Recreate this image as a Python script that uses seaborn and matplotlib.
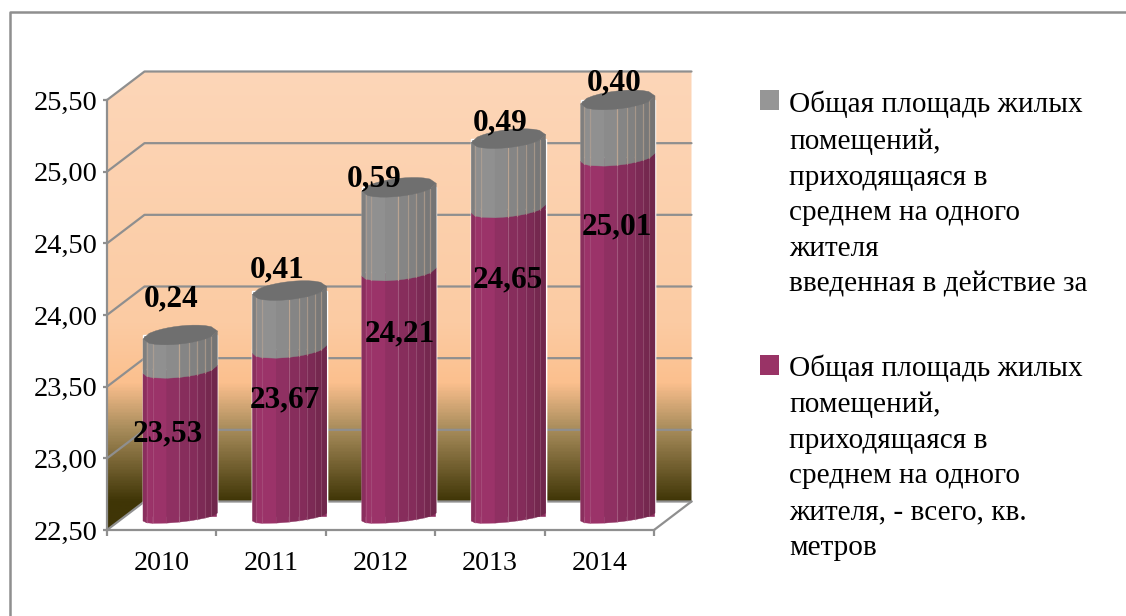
import numpy as np
import pandas as pd
import seaborn as sns
import matplotlib.pyplot as plt
from matplotlib.colors import LinearSegmentedColormap
from matplotlib.lines import Line2D
from matplotlib.patches import Polygon, Rectangle

years = ["2010", "2011", "2012", "2013", "2014"]
area_total = [23.53, 23.67, 24.21, 24.65, 25.01]
area_new = [0.24, 0.41, 0.59, 0.49, 0.40]
y_ticks = [22.5, 23.0, 23.5, 24.0, 24.5, 25.0, 25.5]
legend_new = ("Общая площадь жилых\nпомещений,\nприходящаяся в\nсреднем на одного\n"
              "жителя\nвведенная в действие за")
legend_total = ("Общая площадь жилых\nпомещений,\nприходящаяся в\nсреднем на одного\n"
                "жителя, - всего, кв.\nметров")

W, H = 1126, 616
GREY_LINE = "#8f8f8f"
sns.set_theme(style="white")
plt.rcParams["font.family"] = ["Liberation Serif", "DejaVu Serif"]

df = pd.DataFrame({"year": years, "total": area_total, "new": area_new})
df["top"] = df["total"] + df["new"]

fig = plt.figure(figsize=(W / 100, H / 100), dpi=100)
ax = fig.add_axes([107 / W, (H - 530) / H, 547 / W, 430 / H])

sns.barplot(data=df, x="year", y="top", color="#8a8a8a", width=0.68, saturation=1, ax=ax, zorder=3)
sns.barplot(data=df, x="year", y="total", color="#8e2f60", width=0.68, saturation=1, ax=ax, zorder=3)
grey_bars = ax.patches[:5]
purple_bars = ax.patches[5:10]

ax.set_xlim(-0.5, 4.5)
ax.set_ylim(y_ticks[0], y_ticks[-1])
px_x = 5 / 547
px_y = 3 / 430


# depth of the fake 3d box
depth_x = 37.5 * px_x
depth_y = 28.5 * px_y
x0, x1 = -0.5, 4.5
y0, y1 = y_ticks[0], y_ticks[-1]

# wall gradient runs on screen height, 73 to 530 px
stops = [(0.0, "#fdd6b8"), (0.55, "#fbcba3"), (0.68, "#fcc08e"), (0.78, "#a98d5c"),
         (0.94, "#3f3506"), (1.0, "#3f3506")]
wall_cmap = LinearSegmentedColormap.from_list("wall", stops)
grad = np.linspace(0, 1, 400)[:, None]
img = ax.imshow(grad, cmap=wall_cmap, aspect="auto", origin="upper", zorder=0,
                extent=(x0, x1 + depth_x, y0, y1 + depth_y))
wall_shape = Polygon([(x0, y0), (x0, y1), (x0 + depth_x, y1 + depth_y), (x1 + depth_x, y1 + depth_y),
                      (x1 + depth_x, y0 + depth_y), (x0 + depth_x, y0 + depth_y)],
                     transform=ax.transData, fc="none", ec="none")
ax.add_patch(wall_shape)
wall_shape.set_clip_on(False)
img.set_clip_box(fig.bbox)
img.set_clip_path(wall_shape)
ax.set_xlim(x0, x1)
ax.set_ylim(y0, y1)


def grey_line(xs, ys, z=1):
    ax.add_line(Line2D(xs, ys, color=GREY_LINE, lw=1.6, zorder=z, clip_on=False))


for t in y_ticks:
    grey_line([x0, x0 + depth_x, x1 + depth_x], [t, t + depth_y, t + depth_y])
grey_line([x1, x1 + depth_x], [y0, y0 + depth_y])

# cylinders: facets built on the seaborn bars, moved to the middle of the box
facets = np.array([0, 0.05, 0.13, 0.32, 0.49, 0.62, 0.73, 0.84, 0.92, 1.0])
purple_tones = ["#8a2f5e", "#9b3369", "#9b3369", "#8f3062", "#872d5c", "#842c5a", "#7c2a55", "#75284f", "#70274c"]
grey_tones = ["#7f7f7f", "#8e8e8e", "#909090", "#8b8b8b", "#858585", "#818181", "#7c7c7c", "#787878", "#747474"]
shift_x = 18.5 * px_x
shift_y = 13 * px_y


def front(t, bulge=8):
    return (4 * (1 - 2 * t) + bulge * np.sqrt(np.clip(1 - (2 * t - 1) ** 2, 0, 1))) * px_y


def back(t, bulge=9):
    return (4 * (1 - 2 * t) - bulge * np.sqrt(np.clip(1 - (2 * t - 1) ** 2, 0, 1))) * px_y


for bar in grey_bars + purple_bars:
    bar.set_y(y0 + shift_y)
    bar.set_height(bar.get_height() - y0)
    bar.set_x(bar.get_x() + shift_x)
    bar.set_clip_on(False)

for g_bar, p_bar in zip(grey_bars, purple_bars):
    left = p_bar.get_x()
    width = p_bar.get_width()
    base = p_bar.get_y()
    mid = base + p_bar.get_height()
    top = base + g_bar.get_height()
    for i in range(len(facets) - 1):
        ta, tb = facets[i], facets[i + 1]
        xa, xb = left + ta * width, left + tb * width
        # bottom edge is flatter than the others in the original
        ax.add_patch(Polygon([(xa, base - front(ta, 5)), (xb, base - front(tb, 5)),
                              (xb, mid - front(tb)), (xa, mid - front(ta))],
                             fc=purple_tones[i], ec=purple_tones[i], lw=0.3, zorder=4, clip_on=False))
        ax.add_patch(Polygon([(xa, mid - front(ta)), (xb, mid - front(tb)),
                              (xb, top - front(tb, 9)), (xa, top - front(ta, 9))],
                             fc=grey_tones[i], ec=grey_tones[i], lw=0.3, zorder=4, clip_on=False))
    # light seams between facets
    for t, a in zip(facets[[1, 2, 4, 5, 6, 7, 8]], [0.45, 0.45, 0.8, 0.55, 0.55, 0.55, 0.55]):
        xs = left + t * width
        ax.add_line(Line2D([xs, xs], [top - front(t, 9), mid - front(t)], color="#c8ad96",
                           lw=0.9, alpha=a, zorder=5, clip_on=False))
        ax.add_line(Line2D([xs, xs], [mid - front(t), base - front(t, 5)], color="#c58fa8",
                           lw=0.8, alpha=a * 0.55, zorder=5, clip_on=False))
    ring = np.linspace(0, 1, 13)
    cap = [(left + t * width, top - front(t, 9)) for t in ring]
    cap += [(left + t * width, top - back(t)) for t in ring[::-1]]
    ax.add_patch(Polygon(cap, fc="#6f6f6f", ec="#6f6f6f", lw=0.3, zorder=6, clip_on=False))

# axes
for side in ["top", "right"]:
    ax.spines[side].set_visible(False)
for side in ["left", "bottom"]:
    ax.spines[side].set_color(GREY_LINE)
    ax.spines[side].set_linewidth(1.6)
    ax.spines[side].set_zorder(7)
ax.patch.set_alpha(0)
ax.set_xlabel("")
ax.set_ylabel("")
ax.set_xticks(range(5), years)
ax.set_xticks(np.arange(-0.5, 5, 1), minor=True)
ax.set_yticks(y_ticks, [f"{t:.2f}".replace(".", ",") for t in y_ticks])
ax.tick_params(axis="x", which="major", length=0, pad=15, labelsize=20.2, labelcolor="black")
ax.tick_params(axis="x", which="minor", bottom=True, length=4, width=1.6, color=GREY_LINE)
ax.tick_params(axis="y", left=True, length=3, width=1.6, color=GREY_LINE, pad=4,
               labelsize=20.4, labelcolor="black")

# value labels, hand placed like the original
total_off = [(6, -52), (14, -38), (19, -49), (18, -58), (18, -57)]
new_off = [(9, 49), (6, 34), (-6, 21), (10, 29), (15, 30)]
for i in range(5):
    ax.annotate(f"{area_total[i]:.2f}".replace(".", ","), (i, area_total[i]), xytext=total_off[i],
                textcoords="offset pixels", ha="center", va="center", fontsize=22.5,
                fontweight="bold", color="black", zorder=9, annotation_clip=False)
    ax.annotate(f"{area_new[i]:.2f}".replace(".", ","), (i, df["top"][i]), xytext=new_off[i],
                textcoords="offset pixels", ha="center", va="center", fontsize=22.5,
                fontweight="bold", color="black", zorder=9, annotation_clip=False)

# legend by hand, markers sit on the first text line
for text, sw_top, text_top, color in [(legend_new, 90, 91, "#969696"), (legend_total, 355, 354, "#993366")]:
    fig.add_artist(Rectangle((760 / W, 1 - (sw_top + 20) / H), 19 / W, 20 / H, fc=color, ec="none",
                             transform=fig.transFigure))
    fig.text(789 / W, 1 - text_top / H, text, fontsize=21.1, color="black", va="top", ha="left",
             linespacing=1.486)

# outer frame, only left and top are in the picture
fig.add_artist(Line2D([10 / W, 10 / W, 1], [0, 1 - 12 / H, 1 - 12 / H], color="#8f8f8f", lw=1.8,
                      transform=fig.transFigure))

fig.savefig("out.png", dpi=100)
